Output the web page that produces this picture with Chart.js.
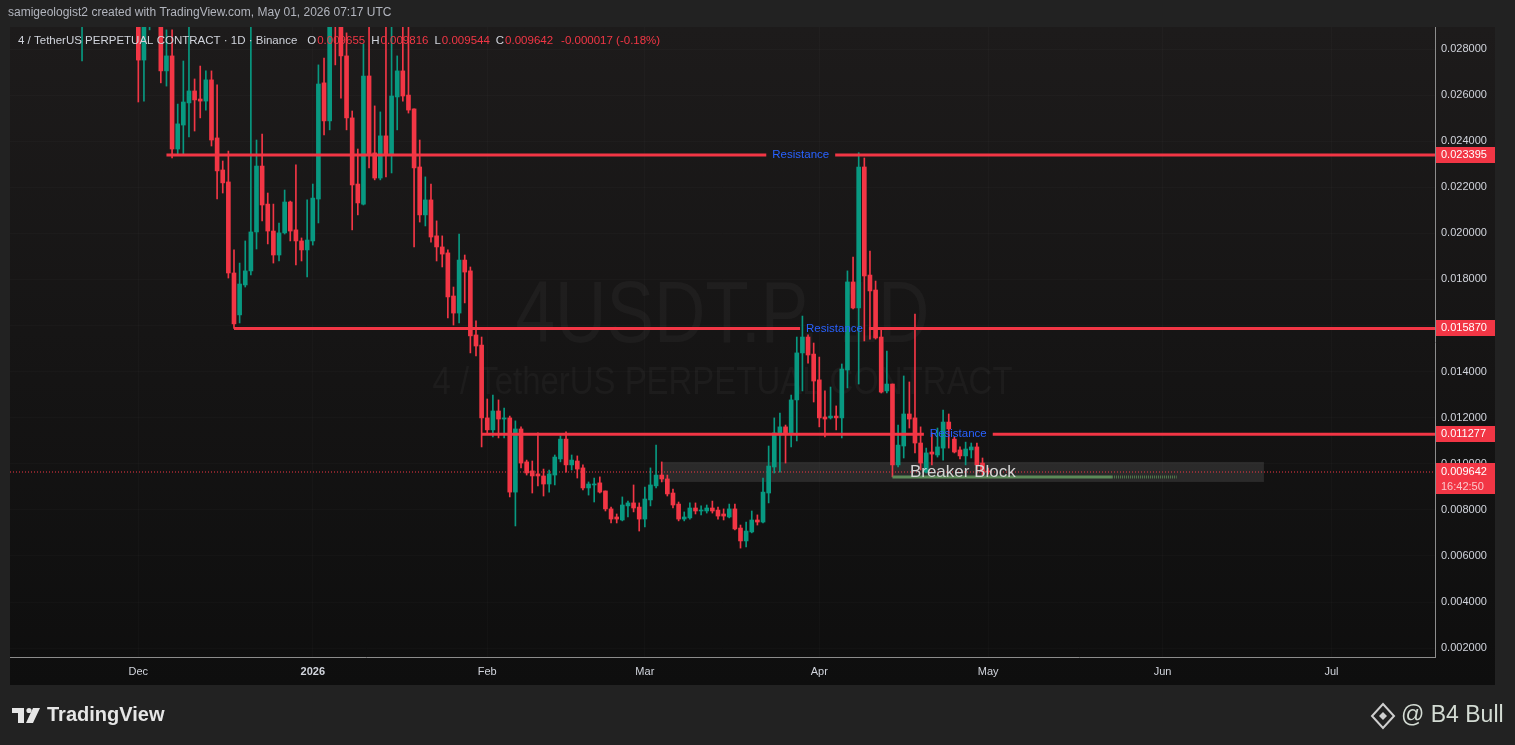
<!DOCTYPE html>
<html>
<head>
<meta charset="utf-8">
<script src="https://cdn.jsdelivr.net/npm/chart.js@4.4.1/dist/chart.umd.min.js"></script>
<style>
html, body { margin: 0; padding: 0; background: #222222; }
canvas { display: block; }
</style>
</head>
<body>
<canvas id="chart" width="1515" height="745"></canvas>
<script>
// day offsets from 1 Dec 2025 (one daily candle each)
const days = [-10, 0, 1, 2,
  4, 5, 6, 7, 8, 9, 10, 11, 12, 13,
  14, 15, 16, 17, 18, 19, 20, 21, 22, 23,
  24, 25, 26, 27, 28, 29, 30, 31, 32, 33,
  34, 35, 36, 37, 38, 39, 40, 41, 42, 43,
  44, 45, 46, 47, 48, 49, 50, 51, 52, 53,
  54, 55, 56, 57, 58, 59, 60, 61, 62, 63,
  64, 65, 66, 67, 68, 69, 70, 71, 72, 73,
  74, 75, 76, 77, 78, 79, 80, 81, 82, 83,
  84, 85, 86, 87, 88, 89, 90, 91, 92, 93,
  94, 95, 96, 97, 98, 99, 100, 101, 102, 103,
  104, 105, 106, 107, 108, 109, 110, 111, 112, 113,
  114, 115, 116, 117, 118, 119, 120, 121, 122, 123,
  124, 125, 126, 127, 128, 129, 130, 131, 132, 133,
  134, 135, 136, 137, 138, 139, 140, 141, 142, 143,
  144, 145, 146, 147, 148, 149, 150, 151];

const opens = [0.0292, 0.0296, 0.02752, 0.0291,
  0.0293, 0.02705, 0.02770, 0.02366, 0.02470, 0.02566, 0.02618, 0.02583, 0.02574, 0.02666,
  0.02414, 0.02275, 0.02223, 0.01828, 0.01646, 0.01776, 0.01837, 0.02006, 0.02292, 0.02127,
  0.02010, 0.01906, 0.02002, 0.02136, 0.02015, 0.01967, 0.01928, 0.01967, 0.02149, 0.02653,
  0.02488, 0.0300, 0.0294, 0.02770, 0.02501, 0.02214, 0.02127, 0.02683, 0.02349, 0.02240,
  0.02423, 0.02340, 0.02592, 0.02705, 0.02600, 0.02540, 0.02288, 0.02080, 0.02145, 0.01989,
  0.01941, 0.01915, 0.01728, 0.01654, 0.01884, 0.01837, 0.01559, 0.01515, 0.01199, 0.01147,
  0.01229, 0.01194, 0.01199, 0.00877, 0.01151, 0.01008, 0.00969, 0.00956, 0.00947, 0.00912,
  0.00951, 0.01021, 0.01107, 0.00995, 0.01012, 0.00982, 0.00895, 0.00908, 0.00917, 0.00882,
  0.00804, 0.00769, 0.00756, 0.00817, 0.00830, 0.00812, 0.00760, 0.00843, 0.00904, 0.00951,
  0.00934, 0.00873, 0.00825, 0.00760, 0.00765, 0.00808, 0.00795, 0.00795, 0.00808, 0.00799,
  0.00782, 0.00769, 0.00804, 0.00721, 0.00665, 0.00704, 0.00756, 0.00747, 0.00873, 0.00986,
  0.01125, 0.01160, 0.01134, 0.01277, 0.01481, 0.01550, 0.01476, 0.01364, 0.01203, 0.01199,
  0.01207, 0.01199, 0.01407, 0.01789, 0.01676, 0.02288, 0.01819, 0.01754, 0.01550, 0.01316,
  0.01346, 0.00995, 0.01077, 0.01216, 0.01199, 0.01090, 0.00964, 0.01051, 0.01038, 0.01068,
  0.01181, 0.01107, 0.01060, 0.01034, 0.01060, 0.01073, 0.01003, 0.009655];

const highs = [0.0304, 0.0302, 0.0299, 0.0300,
  0.0297, 0.02883, 0.02883, 0.02561, 0.02748, 0.0290, 0.02670, 0.02726, 0.02705, 0.02705,
  0.02644, 0.02314, 0.02357, 0.01928, 0.01871, 0.01967, 0.0291, 0.02405, 0.02431, 0.02175,
  0.02127, 0.02045, 0.02188, 0.02140, 0.02297, 0.01980, 0.02145, 0.02214, 0.02731, 0.02761,
  0.0300, 0.0303, 0.0298, 0.0287, 0.02531, 0.02366, 0.02822, 0.0290, 0.02553, 0.02527,
  0.0290, 0.0291, 0.02770, 0.0292, 0.0290, 0.02540, 0.02405, 0.02245, 0.02214, 0.02054,
  0.01989, 0.01928, 0.01767, 0.01997, 0.01906, 0.01854, 0.01620, 0.01550, 0.01281, 0.01298,
  0.01277, 0.01242, 0.01207, 0.01186, 0.01160, 0.01016, 0.01012, 0.01134, 0.00977, 0.00973,
  0.01038, 0.01121, 0.01138, 0.01038, 0.01034, 0.00995, 0.00921, 0.00938, 0.00943, 0.00882,
  0.00812, 0.00782, 0.00856, 0.00838, 0.00908, 0.00830, 0.00899, 0.00982, 0.01081, 0.01008,
  0.00951, 0.00890, 0.00834, 0.00791, 0.00830, 0.00830, 0.00817, 0.00821, 0.00838, 0.00812,
  0.00804, 0.00825, 0.00825, 0.00734, 0.00747, 0.00795, 0.00778, 0.00938, 0.01077, 0.01199,
  0.01220, 0.01168, 0.01298, 0.01550, 0.01641, 0.01559, 0.01524, 0.01463, 0.01316, 0.01333,
  0.01251, 0.01433, 0.01837, 0.01897, 0.02350, 0.02327, 0.01923, 0.01793, 0.01581, 0.01489,
  0.01346, 0.01168, 0.01381, 0.01355, 0.01650, 0.01160, 0.01068, 0.01134, 0.01155, 0.01233,
  0.01216, 0.01116, 0.01073, 0.01094, 0.01090, 0.01090, 0.01025, 0.009816];

const lows = [0.02748, 0.02570, 0.02574, 0.02883,
  0.02653, 0.02639, 0.02327, 0.02340, 0.02340, 0.02418, 0.02444, 0.02501, 0.02535, 0.02379,
  0.02149, 0.02175, 0.01806, 0.01587, 0.01611, 0.01767, 0.01819, 0.01932, 0.02054, 0.01954,
  0.01871, 0.01880, 0.01997, 0.01967, 0.01863, 0.01880, 0.01811, 0.01949, 0.02045, 0.02427,
  0.02449, 0.02731, 0.02587, 0.02449, 0.02015, 0.02080, 0.02123, 0.02284, 0.02232, 0.02232,
  0.02245, 0.02262, 0.02449, 0.02574, 0.02522, 0.01941, 0.02049, 0.02032, 0.01962, 0.01880,
  0.01854, 0.01633, 0.01602, 0.01611, 0.01698, 0.01481, 0.01468, 0.01073, 0.01134, 0.01116,
  0.01112, 0.01112, 0.00856, 0.00730, 0.00982, 0.00951, 0.00873, 0.00904, 0.00860, 0.00877,
  0.00908, 0.01008, 0.00964, 0.00973, 0.00938, 0.00886, 0.00864, 0.00834, 0.00873, 0.00795,
  0.00743, 0.00743, 0.00752, 0.00769, 0.00791, 0.00708, 0.00726, 0.00817, 0.00895, 0.00921,
  0.00860, 0.00808, 0.00752, 0.00752, 0.00760, 0.00782, 0.00778, 0.00786, 0.00786, 0.00760,
  0.00756, 0.00765, 0.00713, 0.00634, 0.00639, 0.00700, 0.00734, 0.00743, 0.00830, 0.00960,
  0.00964, 0.01003, 0.01073, 0.01099, 0.01316, 0.01437, 0.01268, 0.01160, 0.01116, 0.01194,
  0.01147, 0.01112, 0.01329, 0.01672, 0.01346, 0.01533, 0.01541, 0.01541, 0.01307, 0.01307,
  0.00943, 0.00986, 0.01025, 0.01155, 0.01047, 0.00973, 0.00960, 0.00995, 0.01029, 0.01016,
  0.01068, 0.01047, 0.01021, 0.00995, 0.01025, 0.00960, 0.00951, 0.009544];

const closes = [0.0300, 0.02752, 0.0294, 0.0296,
  0.02705, 0.02770, 0.02366, 0.02475, 0.02570, 0.02618, 0.02579, 0.02574, 0.02666, 0.02405,
  0.02271, 0.02219, 0.01828, 0.01607, 0.01780, 0.01837, 0.02006, 0.02292, 0.02123, 0.02010,
  0.01906, 0.02002, 0.02136, 0.02010, 0.01967, 0.01928, 0.01971, 0.02153, 0.02648, 0.02488,
  0.0295, 0.0293, 0.02770, 0.02501, 0.02210, 0.02132, 0.02683, 0.02340, 0.02240, 0.02423,
  0.02340, 0.02596, 0.02705, 0.02596, 0.02535, 0.02284, 0.02080, 0.02145, 0.01984, 0.01941,
  0.01910, 0.01724, 0.01654, 0.01884, 0.01832, 0.01555, 0.01511, 0.01199, 0.01147, 0.01229,
  0.01194, 0.01199, 0.00877, 0.01151, 0.01003, 0.00960, 0.00947, 0.00947, 0.00912, 0.00956,
  0.01029, 0.01107, 0.00995, 0.01016, 0.00977, 0.00895, 0.00912, 0.00912, 0.00877, 0.00804,
  0.00760, 0.00760, 0.00821, 0.00830, 0.00808, 0.00760, 0.00847, 0.00908, 0.00951, 0.00934,
  0.00869, 0.00821, 0.00760, 0.00769, 0.00808, 0.00795, 0.00799, 0.00808, 0.00795, 0.00773,
  0.00773, 0.00804, 0.00717, 0.00665, 0.00708, 0.00756, 0.00747, 0.00877, 0.00990, 0.01134,
  0.01160, 0.01134, 0.01277, 0.01481, 0.01550, 0.01472, 0.01359, 0.01199, 0.01194, 0.01207,
  0.01199, 0.01411, 0.01789, 0.01676, 0.02288, 0.01815, 0.01750, 0.01546, 0.01311, 0.01346,
  0.00995, 0.01081, 0.01216, 0.01194, 0.01090, 0.01003, 0.01047, 0.01042, 0.01073, 0.01181,
  0.01151, 0.01051, 0.01034, 0.01064, 0.01073, 0.00995, 0.009659, 0.009642];

// axis ticks
const monthDays = [0, 31, 62, 90, 121, 151, 182, 212];
const monthLabels = ['Dec', '2026', 'Feb', 'Mar', 'Apr', 'May', 'Jun', 'Jul'];
const yTicks = [0.002, 0.004, 0.006, 0.008, 0.010, 0.012, 0.014, 0.016, 0.018, 0.020, 0.022, 0.024, 0.026, 0.028];

// drawings
const resLevels = [0.023395, 0.015870, 0.011277];
const resStartDays = [5, 17, 61];
const resLabel = 'Resistance';
const breakerDays = [93, 200];
const breakerRange = [0.00921, 0.01008];
const breakerLabel = 'Breaker Block';
const greenLevel = 0.009425;
const greenDays = [134, 173, 184.5];
const lastTimer = '16:42:50';

const headerText = 'samigeologist2 created with TradingView.com, May 01, 2026 07:17 UTC';
const symbolTitle = '4 / TetherUS PERPETUAL CONTRACT \u00b7 1D \u00b7 Binance';

const UP = '#089981', DOWN = '#f23645';
const FONT = "'Liberation Sans', Arial, sans-serif";
Chart.defaults.font.family = FONT;

const xMin = -22.8, xMax = 230.4;
const yMin = 0.001613, yMax = 0.028955;
const lastIdx = closes.length - 1;
const lastPrice = closes[lastIdx];

const candleColors = opens.map((o, i) => closes[i] >= o ? UP : DOWN);
const wickData = days.map((d, i) => ({x: d, y: [lows[i], highs[i]]}));
const bodyData = days.map((d, i) => ({x: d, y: [opens[i], closes[i]]}));

const datasets = [
  {type: 'line', data: [{x: xMin, y: lastPrice}, {x: xMax, y: lastPrice}],
   borderColor: DOWN, borderWidth: 1, borderDash: [1, 2], pointRadius: 0, order: 6},
  {type: 'bar', data: wickData, backgroundColor: candleColors, barThickness: 1,
   grouped: false, order: 5},
  {type: 'bar', data: bodyData, backgroundColor: candleColors, barThickness: 4,
   minBarLength: 1, grouped: false, order: 4},
  {type: 'line', data: [{x: greenDays[0], y: greenLevel}, {x: greenDays[1], y: greenLevel}],
   borderColor: '#5b8a58', borderWidth: 3, pointRadius: 0, order: 3},
  {type: 'line', data: [{x: greenDays[1], y: greenLevel}, {x: greenDays[2], y: greenLevel}],
   borderColor: '#4f784c', borderWidth: 3, borderDash: [1, 1], pointRadius: 0, order: 3}
];
resLevels.forEach((lvl, i) => {
  datasets.push({type: 'line', data: [{x: resStartDays[i], y: lvl}, {x: xMax, y: lvl}],
    borderColor: DOWN, borderWidth: 3, pointRadius: 0, order: 1, gapLabel: resLabel});
});

function gapInfo(chart, ds) {
  const xs = chart.scales.x, ys = chart.scales.y, ctx = chart.ctx;
  const x0 = xs.getPixelForValue(ds.data[0].x), x1 = xs.getPixelForValue(ds.data[1].x);
  ctx.save();
  ctx.font = '11.5px ' + FONT;
  const w = ctx.measureText(ds.gapLabel).width + 12;
  ctx.restore();
  return {mid: (x0 + x1) / 2, py: ys.getPixelForValue(ds.data[0].y), w: w};
}

const tvPlugin = {
  id: 'tvLook',
  beforeDraw(chart) {
    const {ctx, chartArea: a} = chart;
    const xs = chart.scales.x, ys = chart.scales.y;
    ctx.save();
    ctx.fillStyle = '#222222';
    ctx.fillRect(0, 0, chart.width, chart.height);
    const g = ctx.createLinearGradient(0, a.top, 0, xs.bottom);
    g.addColorStop(0, '#1d1b1b');
    g.addColorStop(1, '#0e0e0e');
    ctx.fillStyle = g;
    ctx.fillRect(a.left, a.top, ys.right - a.left, xs.bottom - a.top);
    ctx.restore();
  },
  beforeDatasetsDraw(chart) {
    const {ctx, chartArea: a} = chart;
    const xs = chart.scales.x, ys = chart.scales.y;
    ctx.save();
    ctx.beginPath();
    ctx.rect(a.left, a.top, a.right - a.left, a.bottom - a.top);
    ctx.clip();
    // watermark
    const cx = (a.left + a.right) / 2;
    ctx.fillStyle = 'rgba(255,255,255,0.035)';
    ctx.textAlign = 'center';
    ctx.textBaseline = 'middle';
    ctx.font = '88px ' + FONT;
    ctx.fillText('4USDT.P, 1D', cx, 318, 414);
    ctx.font = '38px ' + FONT;
    ctx.fillText('4 / TetherUS PERPETUAL CONTRACT', cx, 384, 580);
    // breaker block zone
    const bx0 = xs.getPixelForValue(breakerDays[0]), bx1 = xs.getPixelForValue(breakerDays[1]);
    const by0 = ys.getPixelForValue(breakerRange[1]), by1 = ys.getPixelForValue(breakerRange[0]);
    ctx.fillStyle = 'rgba(140,140,140,0.2)';
    ctx.fillRect(bx0, by0, bx1 - bx0, by1 - by0);
    ctx.restore();
  },
  beforeDatasetDraw(chart, args) {
    const ds = chart.data.datasets[args.index];
    if (!ds.gapLabel) return;
    const g = gapInfo(chart, ds);
    const ctx = chart.ctx;
    ctx.save();
    ctx.beginPath();
    ctx.rect(0, 0, chart.width, chart.height);
    ctx.rect(g.mid - g.w / 2, g.py - 6, g.w, 12);
    ctx.clip('evenodd');
  },
  afterDatasetDraw(chart, args) {
    const ds = chart.data.datasets[args.index];
    if (ds.gapLabel) chart.ctx.restore();
  },
  afterDatasetsDraw(chart) {
    const ctx = chart.ctx;
    const xs = chart.scales.x, ys = chart.scales.y;
    ctx.save();
    ctx.textAlign = 'center';
    ctx.textBaseline = 'middle';
    chart.data.datasets.forEach(ds => {
      if (!ds.gapLabel) return;
      const g = gapInfo(chart, ds);
      ctx.font = '11.5px ' + FONT;
      ctx.fillStyle = '#2962ff';
      ctx.fillText(ds.gapLabel, g.mid, g.py);
    });
    const bx = (xs.getPixelForValue(breakerDays[0]) + xs.getPixelForValue(breakerDays[1])) / 2;
    const by = (ys.getPixelForValue(breakerRange[0]) + ys.getPixelForValue(breakerRange[1])) / 2;
    ctx.font = '17px ' + FONT;
    ctx.fillStyle = '#d4d4d4';
    ctx.fillText(breakerLabel, bx, by);
    ctx.restore();
  },
  afterDraw(chart) {
    const ctx = chart.ctx;
    const ys = chart.scales.y;
    ctx.save();
    ctx.textBaseline = 'middle';
    ctx.textAlign = 'left';
    // price labels on the axis
    ctx.font = '11px ' + FONT;
    resLevels.forEach(lvl => {
      const py = Math.round(ys.getPixelForValue(lvl));
      ctx.fillStyle = DOWN;
      ctx.fillRect(ys.left + 1, py - 8, ys.right - ys.left - 1, 16);
      ctx.fillStyle = '#ffffff';
      ctx.fillText(lvl.toFixed(6), ys.left + 6, py);
    });
    const lp = Math.round(ys.getPixelForValue(lastPrice));
    ctx.fillStyle = DOWN;
    ctx.fillRect(ys.left + 1, lp - 9, ys.right - ys.left - 1, 31);
    ctx.fillStyle = '#ffffff';
    ctx.fillText(lastPrice.toFixed(6), ys.left + 6, lp);
    ctx.fillStyle = 'rgba(255,255,255,0.72)';
    ctx.fillText(lastTimer, ys.left + 6, lp + 15);

    // header
    ctx.font = '12px ' + FONT;
    ctx.fillStyle = '#b2b5be';
    ctx.fillText(headerText, 8, 13);
    ctx.font = '11.5px ' + FONT;
    let cx = 18;
    ctx.fillStyle = '#d1d4dc';
    ctx.fillText(symbolTitle, cx, 41);
    cx += ctx.measureText(symbolTitle).width + 10;
    const parts = [['O', opens[lastIdx]], ['H', highs[lastIdx]], ['L', lows[lastIdx]], ['C', closes[lastIdx]]];
    parts.forEach(([k, v]) => {
      ctx.fillStyle = '#d1d4dc';
      ctx.fillText(k, cx, 41);
      cx += ctx.measureText(k).width + 1;
      const s = v.toFixed(6);
      ctx.fillStyle = DOWN;
      ctx.fillText(s, cx, 41);
      cx += ctx.measureText(s).width + 6;
    });
    const ch = closes[lastIdx] - closes[lastIdx - 1];
    ctx.fillStyle = DOWN;
    ctx.fillText(ch.toFixed(6) + ' (' + (ch / closes[lastIdx - 1] * 100).toFixed(2) + '%)', cx + 2, 41);

    // branding
    ctx.fillStyle = '#e6e6e6';
    ctx.fillRect(12, 708, 12, 5);
    ctx.fillRect(18, 708, 6, 15);
    ctx.beginPath();
    ctx.arc(29, 710.5, 2.6, 0, Math.PI * 2);
    ctx.fill();
    ctx.beginPath();
    ctx.moveTo(33, 708); ctx.lineTo(40, 708); ctx.lineTo(33, 723); ctx.lineTo(26, 723);
    ctx.closePath();
    ctx.fill();
    ctx.font = 'bold 20px ' + FONT;
    ctx.fillText('TradingView', 47, 715);

    ctx.strokeStyle = '#cfcfcf';
    ctx.lineWidth = 2;
    ctx.beginPath();
    ctx.moveTo(1383, 704); ctx.lineTo(1394, 716); ctx.lineTo(1383, 728); ctx.lineTo(1372, 716);
    ctx.closePath();
    ctx.stroke();
    ctx.fillStyle = '#cfcfcf';
    ctx.beginPath();
    ctx.moveTo(1383, 712); ctx.lineTo(1387, 716); ctx.lineTo(1383, 720); ctx.lineTo(1379, 716);
    ctx.closePath();
    ctx.fill();
    ctx.font = '23px ' + FONT;
    ctx.fillStyle = '#d3dbd3';
    ctx.fillText('@ B4 Bull', 1401, 716);
    ctx.restore();
  }
};

new Chart(document.getElementById('chart'), {
  type: 'bar',
  data: {datasets: datasets},
  options: {
    responsive: false,
    animation: false,
    events: [],
    layout: {padding: {left: 10, top: 27, right: 20, bottom: 60}},
    plugins: {legend: {display: false}, tooltip: {enabled: false}},
    scales: {
      x: {
        type: 'linear', min: xMin, max: xMax, offset: false,
        afterBuildTicks: s => { s.ticks = monthDays.map(v => ({value: v})); },
        afterFit: s => { s.height = 28; },
        grid: {color: 'rgba(255,255,255,0.02)', drawTicks: false, offset: false},
        border: {color: '#8c8c8c'},
        ticks: {
          color: '#d1d4dc', padding: 8, maxRotation: 0, autoSkip: false,
          callback: v => { const k = monthDays.indexOf(v); return k >= 0 ? monthLabels[k] : ''; },
          font: c => ({size: 11, weight: c.index === 1 ? 'bold' : 'normal'})
        }
      },
      y: {
        type: 'linear', position: 'right', min: yMin, max: yMax,
        afterBuildTicks: s => { s.ticks = yTicks.map(v => ({value: v})); },
        afterFit: s => { s.width = 60; },
        grid: {color: 'rgba(255,255,255,0.02)', drawTicks: false},
        border: {color: '#8c8c8c'},
        ticks: {color: '#d1d4dc', padding: 6, font: {size: 11}, callback: v => v.toFixed(6)}
      }
    }
  },
  plugins: [tvPlugin]
});
</script>
</body>
</html>
